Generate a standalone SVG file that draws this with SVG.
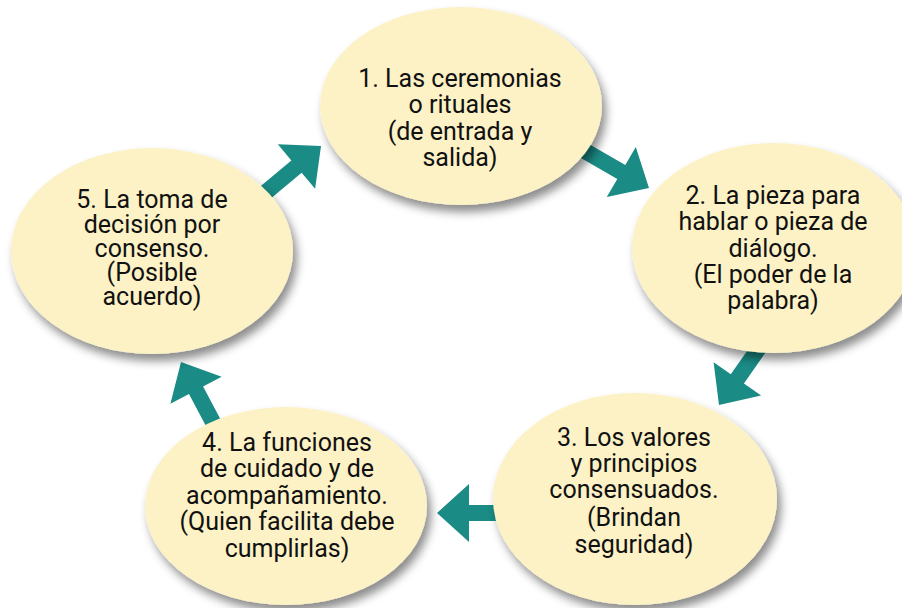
<svg xmlns="http://www.w3.org/2000/svg" width="902" height="608" viewBox="0 0 902 608">
<defs>
<filter id="sh" x="-20%" y="-20%" width="140%" height="150%">
<feDropShadow dx="4" dy="7" stdDeviation="5" flood-color="#000" flood-opacity="0.45"/>
</filter>
<polygon id="arr" points="0,0 -32,-29 -32,-8 -75,-8 -75,8 -32,8 -32,29"/>
</defs>
<style>
.node ellipse{fill:#fcf2c6;filter:url(#sh)}
.node text{font-family:Roboto,"Liberation Sans",sans-serif;font-size:25px;fill:#111;text-anchor:middle}
.conn use{fill:#1a8b85}
</style>
<rect width="902" height="608" fill="#fff"/>
<g id="connectors" class="conn">
<use href="#arr" transform="translate(649,188) rotate(30)"/>
<use href="#arr" transform="translate(719,405) rotate(125)"/>
<use href="#arr" transform="translate(437,513) rotate(180)"/>
<use href="#arr" transform="translate(181,362) rotate(242)"/>
<use href="#arr" transform="translate(321,146) rotate(-40)"/>
</g>
<g id="n1" class="node">
<ellipse cx="461" cy="106" rx="141" ry="99"/>
<text><tspan x="460" y="87">1. Las ceremonias</tspan><tspan x="460" y="113">o rituales</tspan><tspan x="460" y="140">(de entrada y</tspan><tspan x="460" y="166">salida)</tspan></text>
</g>
<g id="n2" class="node">
<ellipse cx="774" cy="248" rx="142" ry="105"/>
<text><tspan x="773" y="204">2. La pieza para</tspan><tspan x="773" y="230">hablar o pieza de</tspan><tspan x="773" y="257">diálogo.</tspan><tspan x="773" y="283">(El poder de la</tspan><tspan x="773" y="309">palabra)</tspan></text>
</g>
<g id="n3" class="node">
<ellipse cx="635" cy="499" rx="142" ry="106"/>
<text><tspan x="634" y="446">3. Los valores</tspan><tspan x="634" y="472">y principios</tspan><tspan x="634" y="498">consensuados.</tspan><tspan x="634" y="526">(Brindan</tspan><tspan x="634" y="553">seguridad)</tspan></text>
</g>
<g id="n4" class="node">
<ellipse cx="286" cy="506" rx="141" ry="99"/>
<text><tspan x="287" y="451">4. La funciones</tspan><tspan x="287" y="477">de cuidado y de</tspan><tspan x="287" y="504">acompañamiento.</tspan><tspan x="287" y="530">(Quien facilita debe</tspan><tspan x="287" y="557">cumplirlas)</tspan></text>
</g>
<g id="n5" class="node">
<ellipse cx="152" cy="251" rx="141" ry="103"/>
<text><tspan x="152" y="208">5. La toma de</tspan><tspan x="152" y="233">decisión por</tspan><tspan x="152" y="257">consenso.</tspan><tspan x="152" y="281">(Posible</tspan><tspan x="152" y="305">acuerdo)</tspan></text>
</g>
</svg>
